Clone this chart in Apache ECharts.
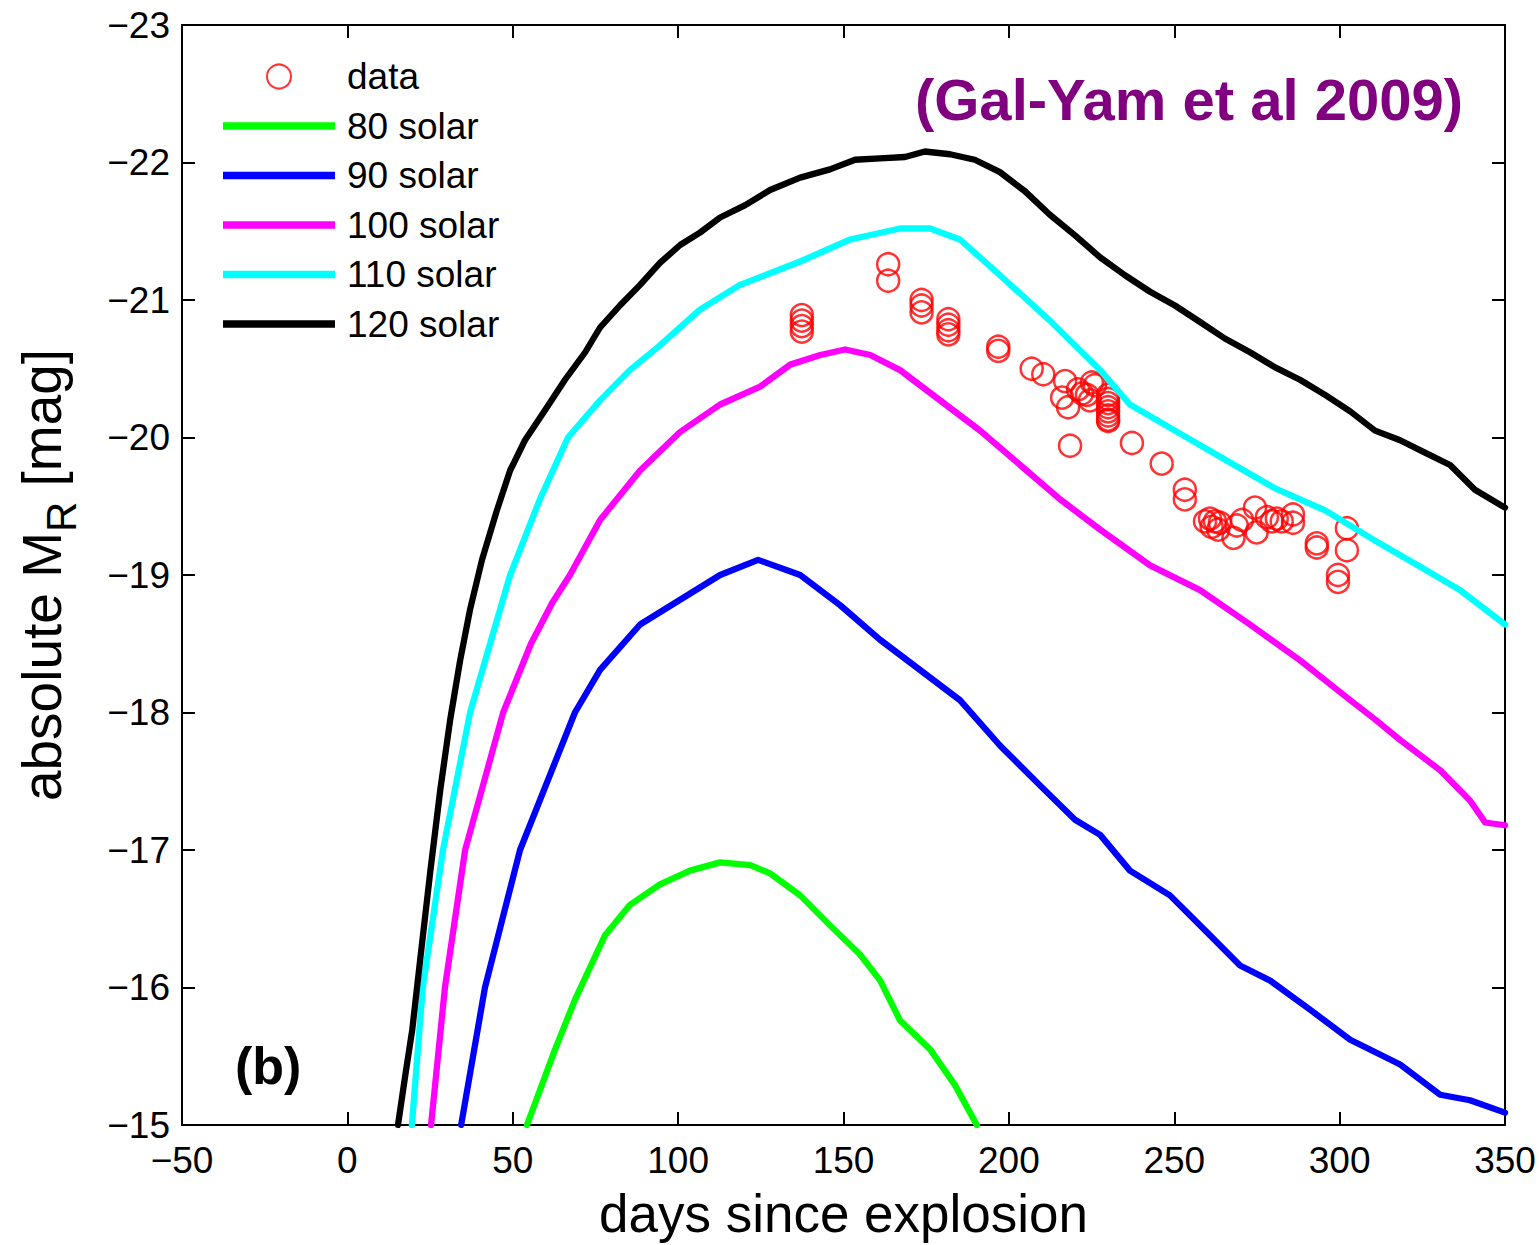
<!DOCTYPE html>
<html>
<head>
<meta charset="utf-8">
<title>PISN light curves</title>
<script src="https://cdn.jsdelivr.net/npm/echarts@6/dist/echarts.min.js"></script>
<style>
  html, body { margin: 0; padding: 0; background: #fff; }
  #chart { width: 1539px; height: 1245px; }
</style>
</head>
<body>
<div id="chart"></div>
<script>
// Observed R-band points (days since explosion, absolute magnitude)
const dataDays = [137.4, 137.4, 137.4, 137.4, 163.5, 163.5, 173.6, 173.6, 173.6,
  181.7, 181.7, 181.7, 181.7, 196.8, 196.8, 206.9, 210.4, 216.1, 217.0, 217.9, 218.5,
  220.9, 222.1, 223.6, 224.5, 225.1, 226.0, 230.0, 230.0, 230.0, 230.0, 230.0, 230.0,
  230.0, 230.0, 237.2, 246.2, 253.2, 253.2, 259.3, 260.8, 261.3, 262.3, 263.8, 263.3,
  267.9, 268.9, 270.5, 274.4, 274.9, 278.0, 279.5, 281.0, 282.5, 285.9, 285.9,
  293.1, 293.1, 299.5, 299.5, 302.2, 302.2];
const dataMags = [-20.89, -20.85, -20.81, -20.77, -21.26, -21.14, -21.00, -20.96, -20.91,
  -20.86, -20.82, -20.78, -20.75, -20.66, -20.63, -20.50, -20.46, -20.29, -20.41, -20.22, -19.94,
  -20.35, -20.32, -20.31, -20.27, -20.40, -20.38, -20.31, -20.28, -20.25, -20.22, -20.19, -20.16,
  -20.13, -20.12, -19.96, -19.81, -19.62, -19.55, -19.39, -19.41, -19.35, -19.39, -19.38, -19.33,
  -19.27, -19.36, -19.40, -19.49, -19.31, -19.42, -19.39, -19.41, -19.39, -19.44, -19.38,
  -19.23, -19.20, -19.00, -18.95, -19.34, -19.18];

// Model light curves by progenitor core mass
const days80 = [54.3, 62.8, 68.8, 77.9, 85.4, 94.5, 103.6, 112.7, 121.8, 127.8, 136.9, 146, 155,
  161.1, 167.1, 176.2, 183.7, 190.3];
const mags80 = [-15, -15.55, -15.91, -16.38, -16.6, -16.75, -16.85, -16.91, -16.89, -16.83, -16.67,
  -16.45, -16.24, -16.05, -15.76, -15.55, -15.29, -15.0];

const days90 = [34.4, 41.6, 52.2, 68.8, 76.4, 88.5, 100.6, 112.7, 124.2, 136.9, 149, 161.0, 173.1,
  185.2, 197.3, 209.4, 220, 227.6, 236.6, 248.7, 260.8, 269.9, 279, 291, 303.2, 318.3, 330.4, 339.4, 350];
const mags90 = [-15, -16, -17, -18, -18.31, -18.64, -18.82, -19.0, -19.11, -19.0, -18.78, -18.53, -18.31,
  -18.09, -17.76, -17.47, -17.22, -17.11, -16.85, -16.67, -16.38, -16.16, -16.05, -15.84, -15.62, -15.44,
  -15.22, -15.18, -15.09];

const days100 = [25.3, 29.5, 35.6, 47.1, 55.5, 62.0, 67.3, 76.4, 88.5, 100.6, 112.7, 124.8, 133.9, 143, 150.5,
  158.1, 167.1, 179.2, 191.3, 203.4, 215.5, 227.6, 242.7, 257.8, 272.9, 288.0, 303.2, 310.7, 318.3,
  330.4, 339.4, 344, 350];
const mags100 = [-15, -16, -17, -18, -18.5, -18.8, -19, -19.4, -19.76, -20.04, -20.24, -20.37, -20.53, -20.6, -20.64,
  -20.6, -20.49, -20.27, -20.05, -19.8, -19.55, -19.33, -19.07, -18.89, -18.64, -18.38, -18.09, -17.95,
  -17.8, -17.58, -17.36, -17.2, -17.18];

const days110 = [19.5, 22.8, 28.9, 37.1, 49.2, 58.2, 66.7, 76.4, 85.4, 94.5, 106.6, 118.7, 136.9, 152.0,
  167.1, 176.2, 185.2, 197.3, 212.4, 227.6, 236.6, 250.2, 265.3, 280.5, 295.6, 310.7, 325.8, 336.4, 350];
const mags110 = [-15, -16, -17, -18, -19, -19.55, -20, -20.27, -20.49, -20.67, -20.93, -21.11, -21.28,
  -21.44, -21.52, -21.52, -21.44, -21.18, -20.85, -20.49, -20.24, -20.05, -19.84, -19.63, -19.47, -19.25,
  -19.04, -18.89, -18.64];

const days120 = [15.3, 17.5, 19.6, 22.0, 25.1, 28.1, 31.1, 34.1, 37.1, 40.7, 45.2, 49.2, 53.7, 59.8, 65.8,
  71.9, 76.4, 82.4, 88.5, 94.5, 100.6, 106.6, 112.7, 120.3, 127.8, 136.9, 145.9, 153.5, 161.0, 168.6,
  174.6, 182.2, 189.7, 197.3, 204.9, 212.4, 220, 227.6, 235.1, 242.7, 250.2, 257.8, 265.3, 272.9, 280.5,
  288, 295.6, 303.2, 310.7, 318.3, 325.8, 333.4, 340.9, 350];
const mags120 = [-15, -15.36, -15.69, -16.2, -16.85, -17.44, -17.95, -18.38, -18.75, -19.11, -19.47,
  -19.76, -19.98, -20.2, -20.42, -20.62, -20.8, -20.96, -21.11, -21.27, -21.4, -21.49, -21.6, -21.69,
  -21.8, -21.89, -21.95, -22.02, -22.03, -22.04, -22.08, -22.06, -22.02, -21.93, -21.79, -21.62, -21.47,
  -21.31, -21.18, -21.06, -20.96, -20.84, -20.72, -20.62, -20.51, -20.42, -20.31, -20.19, -20.05,
  -19.98, -19.89, -19.8, -19.62, -19.49];

const xTicks = { min: -50, max: 350, step: 50 };
const yTicks = { min: -23, max: -15, step: 1 };

const FONT = '"Liberation Sans", Arial, Helvetica, sans-serif';
const minus = v => String(v).replace('-', '\u2212');
const zip = (xs, ys) => xs.map((x, i) => [x, ys[i]]);
// plain bar used as the legend key for model curves
const LINE_KEY = 'path://M0,0H112V7.5H0Z';

const curve = (name, days, mags, color) => ({
  name, type: 'line', data: zip(days, mags), xAxisIndex: 0, yAxisIndex: 0,
  showSymbol: false, symbol: 'none', smooth: false, clip: true,
  lineStyle: { color, width: 6.3, join: 'round', cap: 'round' },
  itemStyle: { color }, z: 3
});

const axisCommon = {
  type: 'value',
  axisLine: { show: true, onZero: false, lineStyle: { color: '#000', width: 2 } },
  axisTick: { show: true, inside: true, length: 13, lineStyle: { color: '#000', width: 2 } },
  splitLine: { show: false },
  minorTick: { show: false }
};

const chart = echarts.init(document.getElementById('chart'), null, { renderer: 'svg' });
chart.setOption({
  backgroundColor: '#fff',
  animation: false,
  textStyle: { fontFamily: FONT },
  grid: { left: 182, top: 25, right: 34, bottom: 120, containLabel: false },
  xAxis: [
    Object.assign({}, axisCommon, {
      position: 'bottom', min: xTicks.min, max: xTicks.max, interval: xTicks.step,
      axisLabel: { show: true, color: '#000', fontSize: 37, fontFamily: FONT, margin: 17, formatter: minus },
      name: 'days since explosion', nameLocation: 'middle', nameGap: 62,
      nameTextStyle: { color: '#000', fontSize: 53, fontFamily: FONT }
    }),
    Object.assign({}, axisCommon, {
      position: 'top', min: xTicks.min, max: xTicks.max, interval: xTicks.step,
      axisLabel: { show: false }
    })
  ],
  yAxis: [
    Object.assign({}, axisCommon, {
      position: 'left', inverse: true, min: yTicks.min, max: yTicks.max, interval: yTicks.step,
      axisLabel: { show: true, color: '#000', fontSize: 37, fontFamily: FONT, margin: 12, formatter: minus },
      name: '{a|absolute M}{s|R}{a| [mag]}', nameLocation: 'middle', nameRotate: 90, nameGap: 100,
      nameTextStyle: {
        color: '#000', fontFamily: FONT,
        rich: {
          a: { fontSize: 55, fontFamily: FONT, color: '#000' },
          s: { fontSize: 42, fontFamily: FONT, color: '#000', padding: [38, 0, 0, 0] }
        }
      }
    }),
    Object.assign({}, axisCommon, {
      position: 'right', inverse: true, min: yTicks.min, max: yTicks.max, interval: yTicks.step,
      axisLabel: { show: false }
    })
  ],
  legend: {
    show: true, orient: 'vertical', left: 223, top: 58, padding: 0,
    itemWidth: 112, itemHeight: 24, itemGap: 12.5,
    textStyle: { fontSize: 37, fontFamily: FONT, color: '#000', padding: [0, 0, 0, 7] },
    data: [
      { name: 'data' },
      { name: '80 solar', icon: LINE_KEY },
      { name: '90 solar', icon: LINE_KEY },
      { name: '100 solar', icon: LINE_KEY },
      { name: '110 solar', icon: LINE_KEY },
      { name: '120 solar', icon: LINE_KEY }
    ]
  },
  graphic: [
    {
      type: 'text', right: 1539 - 1463, top: 70,
      style: { text: '(Gal-Yam et al 2009)', fill: '#800080', font: 'bold 58px ' + FONT }
    },
    {
      type: 'text', left: 235, top: 1040,
      style: { text: '(b)', fill: '#000', font: 'bold 52px ' + FONT }
    }
  ],
  series: [
    {
      name: 'data', type: 'scatter', data: zip(dataDays, dataMags),
      symbol: 'circle', symbolSize: 22,
      itemStyle: { color: 'rgba(255,0,0,0)', borderColor: '#ff0000', borderWidth: 2.5 },
      z: 2
    },
    curve('80 solar', days80, mags80, '#00ff00'),
    curve('90 solar', days90, mags90, '#0000ff'),
    curve('100 solar', days100, mags100, '#ff00ff'),
    curve('110 solar', days110, mags110, '#00ffff'),
    curve('120 solar', days120, mags120, '#000000')
  ]
});
</script>
</body>
</html>
